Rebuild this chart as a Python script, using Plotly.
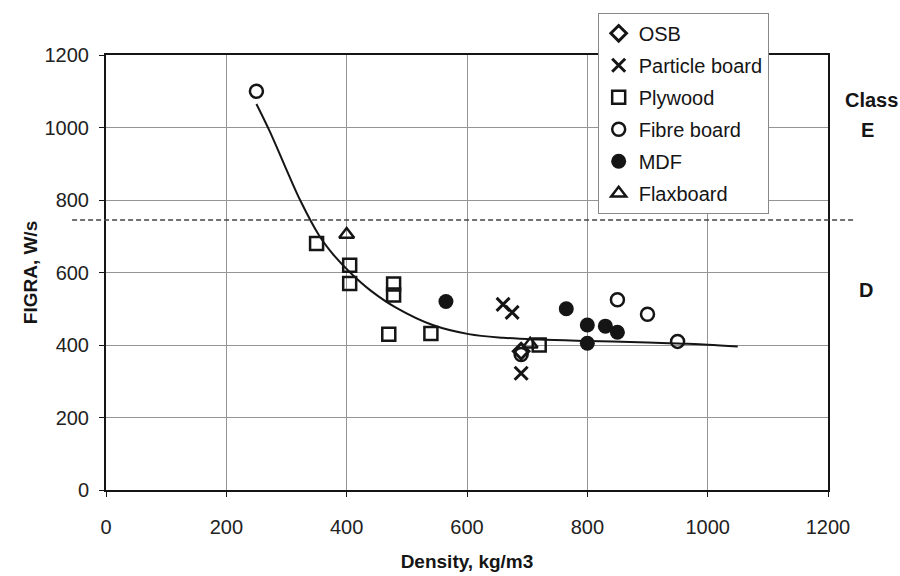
import plotly.graph_objects as go

# ---- data ----
osb_x = [690]
osb_y = [383]
particle_x = [660, 675, 690]
particle_y = [512, 490, 322]
plywood_x = [350, 405, 405, 470, 478, 478, 540, 720]
plywood_y = [680, 620, 570, 430, 568, 538, 432, 400]
fibre_x = [250, 690, 850, 900, 950]
fibre_y = [1100, 374, 525, 485, 410]
mdf_x = [565, 765, 800, 830, 850, 800]
mdf_y = [520, 500, 455, 452, 435, 405]
flax_x = [400, 705]
flax_y = [705, 402]

# fitted trend curve
curve_x = [250, 272, 297, 324, 355, 380, 407, 440, 482, 543, 603, 660, 719, 802, 900, 951, 1000, 1050]
curve_y = [1065, 990, 895, 795, 700, 645, 598, 550, 503, 455, 430, 420, 415, 411, 407, 404, 401, 396]

class_limit = 745
x_ticks = [0, 200, 400, 600, 800, 1000, 1200]
y_ticks = [0, 200, 400, 600, 800, 1000, 1200]

FONT = "Liberation Sans, Arial, sans-serif"
INK = "#151515"

fig = go.Figure()

fig.add_trace(go.Scatter(x=curve_x, y=curve_y, mode="lines", line=dict(color=INK, width=2, shape="spline"),
                         showlegend=False, hoverinfo="skip"))

def add(name, xs, ys, symbol, size, lw):
    fig.add_trace(go.Scatter(
        x=xs, y=ys, mode="markers", name=name, legendgroup=name,
        marker=dict(symbol=symbol, size=size, color=INK,
                    line=dict(color=INK, width=lw)),
    ))

add("OSB", osb_x, osb_y, "diamond-open", 12, 3)
add("Particle board", particle_x, particle_y, "x-thin", 13, 3)
add("Plywood", plywood_x, plywood_y, "square-open", 13, 2.5)
add("Fibre board", fibre_x, fibre_y, "circle-open", 13, 2.5)
add("MDF", mdf_x, mdf_y, "circle", 15, 0)
add("Flaxboard", flax_x, flax_y, "triangle-up-open", 13, 2.5)

fig.add_shape(type="line", xref="paper", yref="y", x0=-0.047, x1=1.035, y0=class_limit, y1=class_limit,
              line=dict(color="#444", width=1.5, dash="5px,3px"), layer="above")

for txt, xv, yv in [("Class", 1.06, 1076), ("E", 1.055, 993), ("D", 1.053, 552)]:
    fig.add_annotation(text=txt, xref="paper", yref="y", x=xv, y=yv, xanchor="center", showarrow=False,
                       font=dict(family=FONT, size=20, color=INK, weight="bold"))

axis_common = dict(
    showline=True, linecolor=INK, linewidth=2, mirror=True,
    showgrid=True, gridcolor="#959595", gridwidth=1,
    zeroline=False, ticks="outside", ticklen=5, tickcolor=INK, tickwidth=1,
    tickfont=dict(family=FONT, size=20, color="#222"),
)

fig.update_xaxes(range=[0, 1200], tickvals=x_ticks, ticklabelstandoff=13,
                 title=dict(text="Density, kg/m3", font=dict(family=FONT, size=19, color=INK, weight="bold"), standoff=18),
                 **axis_common)
fig.update_yaxes(range=[0, 1200], tickvals=y_ticks, ticklabelstandoff=6,
                 title=dict(text="FIGRA, W/s", font=dict(family=FONT, size=19, color=INK, weight="bold"), standoff=2),
                 **axis_common)

fig.update_layout(
    width=900, height=576,
    margin=dict(l=106, r=72, t=55, b=86, autoexpand=False),
    paper_bgcolor="white", plot_bgcolor="white",
    font=dict(family=FONT, size=20, color=INK),
    legend=dict(x=0.681, y=1.097, xanchor="left", yanchor="top",
                bgcolor="white", bordercolor="#888", borderwidth=1,
                font=dict(family=FONT, size=20, color=INK),
                traceorder="grouped", tracegroupgap=3, itemwidth=30),
)

fig.write_html("out.html")
